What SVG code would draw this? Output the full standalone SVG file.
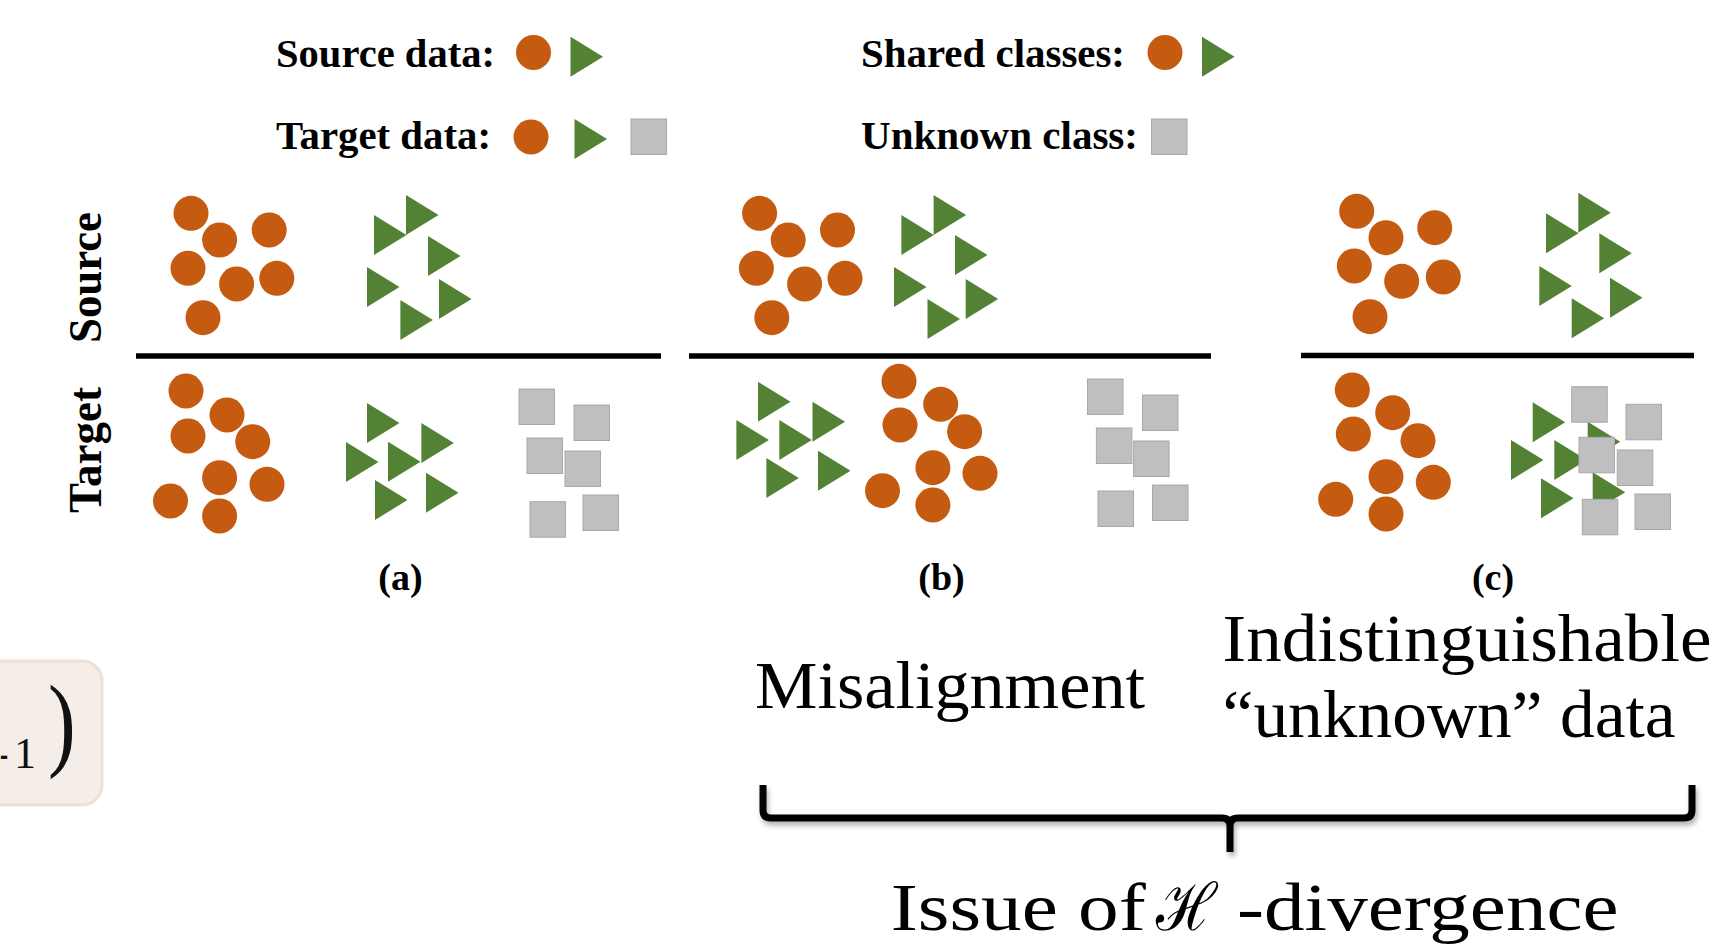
<svg xmlns="http://www.w3.org/2000/svg" xmlns:xlink="http://www.w3.org/1999/xlink" width="1714" height="947" viewBox="0 0 1714 947">
<style>
.o{fill:#c55a11;}
.g{fill:#548235;}
.s{fill:#bfbfbf;stroke:#a8a8a8;stroke-width:1;}
.lg{font-family:"Liberation Serif","Times New Roman",serif;font-weight:bold;font-size:41px;fill:#000;}
.lab{font-family:"Liberation Serif","Times New Roman",serif;font-weight:bold;font-size:38px;fill:#000;text-anchor:middle;}
.side{font-family:"Liberation Serif","Times New Roman",serif;font-weight:bold;font-size:46px;fill:#000;}
.big{font-family:"Liberation Serif","Times New Roman",serif;font-size:68px;fill:#000;}
.rule{stroke:#000;stroke-width:5.5;}
</style>
<defs>
<path id="tri" d="M0,0 L32.5,20 L0,40 Z"/>
<rect id="sq" width="35.5" height="35.5"/>
<filter id="sh" x="-5%" y="-50%" width="110%" height="250%">
<feDropShadow dx="2" dy="4" stdDeviation="2.5" flood-color="#000" flood-opacity="0.3"/>
</filter>
</defs>
<rect width="1714" height="947" fill="#fff"/>

<g id="left-box">
<rect x="-30" y="661" width="132" height="144" rx="20" fill="#f5ede8" stroke="#ede0d6" stroke-width="3"/>
<text x="0" y="768" font-family="Liberation Serif, serif" font-size="44" fill="#111" textLength="8" lengthAdjust="spacingAndGlyphs">-</text>
<text x="14" y="768" font-family="Liberation Serif, serif" font-size="44" fill="#111">1</text>
<text x="48" y="757" font-family="Liberation Serif, serif" font-size="104" fill="#111" transform="translate(48,0) scale(0.8,1) translate(-48,0)">)</text>
</g>

<g id="legend">
<text class="lg" x="276" y="66.7" textLength="219" lengthAdjust="spacingAndGlyphs">Source data:</text>
<circle class="o" cx="533.5" cy="52.5" r="17.5"/>
<use xlink:href="#tri" class="g" x="570.5" y="36.7"/>
<text class="lg" x="276" y="149" textLength="215" lengthAdjust="spacingAndGlyphs">Target data:</text>
<circle class="o" cx="531" cy="137" r="17.5"/>
<use xlink:href="#tri" class="g" x="574.5" y="119"/>
<use xlink:href="#sq" class="s" x="631" y="119"/>
<text class="lg" x="861" y="66.7" textLength="264" lengthAdjust="spacingAndGlyphs">Shared classes:</text>
<circle class="o" cx="1165" cy="52.5" r="17.5"/>
<use xlink:href="#tri" class="g" x="1202" y="36.7"/>
<text class="lg" x="861" y="149" textLength="277" lengthAdjust="spacingAndGlyphs">Unknown class:</text>
<use xlink:href="#sq" class="s" x="1151.5" y="119"/>
</g>

<g id="side-labels">
<text class="side" transform="translate(101,343) rotate(-90)" textLength="131" lengthAdjust="spacingAndGlyphs">Source</text>
<text class="side" transform="translate(101,513) rotate(-90)" textLength="126" lengthAdjust="spacingAndGlyphs">Target</text>
</g>

<g id="panel-a">
<line class="rule" x1="136" y1="356" x2="661" y2="356"/>
<g class="o">
<circle cx="191" cy="213.3" r="17.5"/><circle cx="219.6" cy="240" r="17.5"/><circle cx="269.2" cy="230" r="17.5"/><circle cx="188" cy="268.3" r="17.5"/><circle cx="236.6" cy="284" r="17.5"/><circle cx="276.8" cy="278.3" r="17.5"/><circle cx="203" cy="317.7" r="17.5"/>
<circle cx="186" cy="391" r="17.5"/><circle cx="227" cy="415" r="17.5"/><circle cx="188" cy="436" r="17.5"/><circle cx="252.7" cy="441.7" r="17.5"/><circle cx="219.6" cy="477.7" r="17.5"/><circle cx="267" cy="484.3" r="17.5"/><circle cx="170.5" cy="501" r="17.5"/><circle cx="219.6" cy="516" r="17.5"/>
</g>
<g class="g">
<use xlink:href="#tri" x="374" y="215"/><use xlink:href="#tri" x="406" y="195"/><use xlink:href="#tri" x="428" y="236"/><use xlink:href="#tri" x="367" y="267"/><use xlink:href="#tri" x="439" y="279"/><use xlink:href="#tri" x="400.4" y="300"/>
<use xlink:href="#tri" x="367" y="403"/><use xlink:href="#tri" x="421.4" y="423"/><use xlink:href="#tri" x="346" y="442"/><use xlink:href="#tri" x="388" y="441.7"/><use xlink:href="#tri" x="375" y="480"/><use xlink:href="#tri" x="426" y="472.7"/>
</g>
<g class="s">
<use xlink:href="#sq" x="519" y="389"/><use xlink:href="#sq" x="574" y="405"/><use xlink:href="#sq" x="527" y="438"/><use xlink:href="#sq" x="565" y="451"/><use xlink:href="#sq" x="530" y="501.7"/><use xlink:href="#sq" x="583" y="495"/>
</g>
<text class="lab" x="400.5" y="590">(a)</text>
</g>

<g id="panel-b">
<line class="rule" x1="689" y1="356" x2="1211" y2="356"/>
<g class="o">
<circle cx="759.6" cy="213.3" r="17.5"/><circle cx="788.2" cy="240" r="17.5"/><circle cx="837.5" cy="230" r="17.5"/><circle cx="756.4" cy="268.3" r="17.5"/><circle cx="804.6" cy="284" r="17.5"/><circle cx="845" cy="278.3" r="17.5"/><circle cx="771.8" cy="317.7" r="17.5"/>
<circle cx="899" cy="381.3" r="17.5"/><circle cx="940.7" cy="404.3" r="17.5"/><circle cx="900" cy="425" r="17.5"/><circle cx="964.6" cy="431.7" r="17.5"/><circle cx="932.9" cy="467.7" r="17.5"/><circle cx="980" cy="473.3" r="17.5"/><circle cx="882.5" cy="490.7" r="17.5"/><circle cx="932.9" cy="505" r="17.5"/>
</g>
<g class="g">
<use xlink:href="#tri" x="901.4" y="215"/><use xlink:href="#tri" x="933.6" y="195"/><use xlink:href="#tri" x="955" y="235"/><use xlink:href="#tri" x="894" y="267"/><use xlink:href="#tri" x="965.7" y="279"/><use xlink:href="#tri" x="927.5" y="299"/>
<use xlink:href="#tri" x="758" y="381.7"/><use xlink:href="#tri" x="812.5" y="401.7"/><use xlink:href="#tri" x="736.4" y="420"/><use xlink:href="#tri" x="779.3" y="420"/><use xlink:href="#tri" x="766.4" y="458"/><use xlink:href="#tri" x="818" y="450.7"/>
</g>
<g class="s">
<use xlink:href="#sq" x="1087.5" y="379"/><use xlink:href="#sq" x="1142.5" y="395"/><use xlink:href="#sq" x="1096.4" y="428"/><use xlink:href="#sq" x="1133.6" y="441"/><use xlink:href="#sq" x="1098" y="491"/><use xlink:href="#sq" x="1152.5" y="485"/>
</g>
<text class="lab" x="941.5" y="590">(b)</text>
</g>

<g id="panel-c">
<line class="rule" x1="1301" y1="355.5" x2="1694" y2="355.5"/>
<g class="o">
<circle cx="1356.7" cy="211.3" r="17.5"/><circle cx="1386" cy="237.7" r="17.5"/><circle cx="1434.7" cy="227.7" r="17.5"/><circle cx="1354.3" cy="266" r="17.5"/><circle cx="1401.7" cy="281.3" r="17.5"/><circle cx="1443.3" cy="277" r="17.5"/><circle cx="1370" cy="316.7" r="17.5"/>
<circle cx="1352.3" cy="390" r="17.5"/><circle cx="1392.7" cy="412.7" r="17.5"/><circle cx="1353.3" cy="434" r="17.5"/><circle cx="1418" cy="440.7" r="17.5"/><circle cx="1386" cy="476.7" r="17.5"/><circle cx="1433.3" cy="482.3" r="17.5"/><circle cx="1335.7" cy="499.3" r="17.5"/><circle cx="1386" cy="514" r="17.5"/>
</g>
<g class="g">
<use xlink:href="#tri" x="1546" y="213.3"/><use xlink:href="#tri" x="1578.3" y="192.7"/><use xlink:href="#tri" x="1599.3" y="233.3"/><use xlink:href="#tri" x="1539.3" y="266"/><use xlink:href="#tri" x="1610" y="277.7"/><use xlink:href="#tri" x="1571.7" y="298.3"/>
<use xlink:href="#tri" x="1532.7" y="402.3"/><use xlink:href="#tri" x="1587.7" y="421.7"/><use xlink:href="#tri" x="1511" y="440"/><use xlink:href="#tri" x="1554.3" y="440"/><use xlink:href="#tri" x="1541" y="478.3"/><use xlink:href="#tri" x="1592.7" y="472.3"/>
</g>
<g class="s">
<use xlink:href="#sq" x="1571.7" y="386.7"/><use xlink:href="#sq" x="1626" y="404.3"/><use xlink:href="#sq" x="1579" y="437.3"/><use xlink:href="#sq" x="1617.3" y="450"/><use xlink:href="#sq" x="1582.3" y="499.3"/><use xlink:href="#sq" x="1635" y="494"/>
</g>
<text class="lab" x="1493" y="590">(c)</text>
</g>

<g id="issue-labels">
<text class="big" x="755" y="708" textLength="390" lengthAdjust="spacingAndGlyphs">Misalignment</text>
<text class="big" x="1222.6" y="661" textLength="489" lengthAdjust="spacingAndGlyphs">Indistinguishable</text>
<text class="big" x="1222.6" y="737" textLength="453" lengthAdjust="spacingAndGlyphs">“unknown” data</text>
</g>

<g id="connectors">
<path d="M763,785 L763,810 Q763,818 771,818 L1222,818 Q1230,818 1230,826 L1230,852 M1230,826 Q1230,818 1238,818 L1684,818 Q1692,818 1692,810 L1692,785" fill="none" stroke="#000" stroke-width="7" filter="url(#sh)"/>
</g>

<g id="conclusion">
<text class="big" x="890.8" y="930" font-size="72" textLength="255" lengthAdjust="spacingAndGlyphs">Issue of</text>
<text x="1156" y="930" font-family="DejaVu Serif, serif" font-size="66" fill="#000" textLength="61" lengthAdjust="spacingAndGlyphs">ℋ</text>
<text class="big" x="1237" y="930" font-size="72" textLength="381.5" lengthAdjust="spacingAndGlyphs">-divergence</text>
</g>
</svg>
